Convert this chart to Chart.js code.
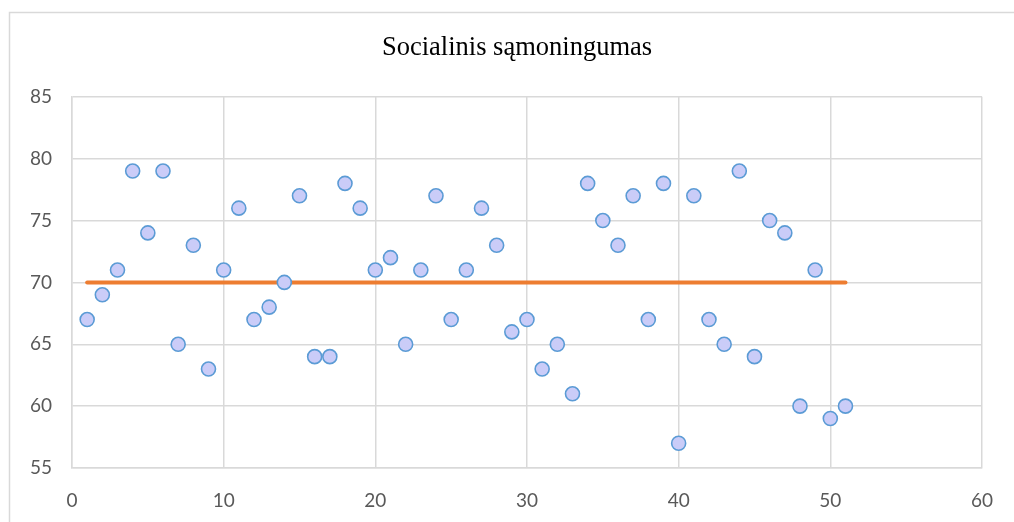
<!DOCTYPE html>
<html>
<head>
<meta charset="utf-8">
<script src="https://cdn.jsdelivr.net/npm/chart.js@4/dist/chart.umd.min.js"></script>
<style>
html,body{margin:0;padding:0;background:#fff;}
#wrap{width:1014px;height:522px;position:relative;}
</style>
</head>
<body>
<div id="wrap"><canvas id="c" width="1014" height="522"></canvas></div>
<script>
const titleText = "Socialinis sąmoningumas";
const xValues = [1,2,3,4,5,6,7,8,9,10,11,12,13,14,15,16,17,18,19,20,21,22,23,24,25,26,27,28,29,30,31,32,33,34,35,36,37,38,39,40,41,42,43,44,45,46,47,48,49,50,51];
const scores = [67,69,71,79,74,79,65,73,63,71,76,67,68,70,77,64,64,78,76,71,72,65,71,77,67,71,76,73,66,67,63,65,61,78,75,73,77,67,78,57,77,67,65,79,64,75,74,60,71,59,60];
const meanX = [1,51];
const meanY = [70,70];

const pts = xValues.map((x,i)=>({x:x,y:scores[i]}));
const meanPts = meanX.map((x,i)=>({x:x,y:meanY[i]}));

const framePlugin = {
  id:'frame',
  beforeDraw(chart){
    const ctx = chart.ctx;
    ctx.save();
    ctx.fillStyle = '#fff';
    ctx.fillRect(0,0,chart.width,chart.height);
    ctx.strokeStyle = '#D9D9D9';
    ctx.lineWidth = 1.5;
    ctx.beginPath();
    ctx.moveTo(9.5, chart.height);
    ctx.lineTo(9.5, 12.5);
    ctx.lineTo(chart.width, 12.5);
    ctx.stroke();
    ctx.restore();
  }
};

new Chart(document.getElementById('c'), {
  type:'scatter',
  data:{
    datasets:[
      {
        label:'scores',
        data:pts,
        order:0,
        pointRadius:7,
        pointHoverRadius:7,
        pointBackgroundColor:'#CACCF8',
        pointBorderColor:'#5B9BD5',
        pointBorderWidth:1.6,
        showLine:false
      },
      {
        label:'mean',
        data:meanPts,
        order:1,
        showLine:true,
        borderColor:'#ED7D31',
        borderWidth:4,
        borderCapStyle:'round',
        pointRadius:0,
        pointHoverRadius:0
      }
    ]
  },
  options:{
    responsive:false,
    animation:false,
    layout:{padding:{left:20,right:0,top:0,bottom:0}},
    plugins:{
      legend:{display:false},
      tooltip:{enabled:false},
      title:{
        display:true,
        text:titleText,
        color:'#000',
        font:{family:'"Liberation Serif", "Times New Roman", serif', size:26.5, weight:'normal'},
        padding:{top:32, bottom:33}
      }
    },
    scales:{
      x:{
        type:'linear',
        min:0,max:60,
        ticks:{stepSize:10,color:'#595959',font:{family:'Lato, "Open Sans", sans-serif',size:19},padding:21},
        grid:{color:'#D9D9D9',lineWidth:1.5,drawTicks:false},
        border:{color:'#D9D9D9',width:1.5},
        afterFit(s){ s.height = 54; }
      },
      y:{
        min:55,max:85,
        ticks:{stepSize:5,color:'#595959',font:{family:'Lato, "Open Sans", sans-serif',size:19},padding:20},
        grid:{color:'#D9D9D9',lineWidth:1.5,drawTicks:false},
        border:{color:'#D9D9D9',width:1.5},
        afterFit(s){ s.width = 52; }
      },
      yRight:{
        position:'right',
        min:55,max:85,
        ticks:{display:false},
        grid:{display:false,drawTicks:false},
        border:{display:false},
        afterFit(s){ s.width = 31; }
      }
    }
  },
  plugins:[framePlugin]
});
</script>
</body>
</html>
